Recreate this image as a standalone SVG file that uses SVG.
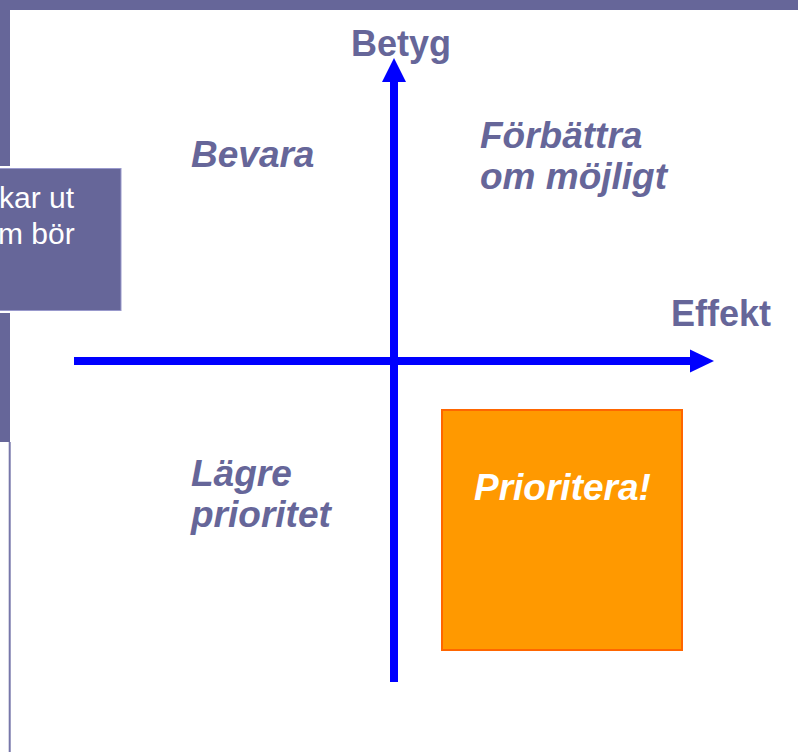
<svg xmlns="http://www.w3.org/2000/svg" width="798" height="752" viewBox="0 0 798 752">
<defs>
<style>
.lbl{font-family:"Liberation Sans",Arial,sans-serif;font-weight:bold;font-style:italic;font-size:37px;fill:#666699}
.ax{font-family:"Liberation Sans",Arial,sans-serif;font-weight:bold;font-size:36px;fill:#666699}
.box{font-family:"Liberation Sans",Arial,sans-serif;font-size:30px;fill:#ffffff}
.axis{stroke:#0000ff;stroke-width:8;fill:none}
</style>
</defs>
<rect width="798" height="752" fill="#ffffff"/>
<g id="frame">
<rect x="0" y="0" width="798" height="10" fill="#666699"/>
<rect x="0" y="0" width="10" height="442" fill="#666699"/>
<rect x="8.7" y="442" width="2" height="310" fill="#7777aa"/>
</g>
<g id="sidebox">
<rect x="-1" y="166" width="123" height="147" fill="#ffffff"/>
<rect x="-1" y="168.5" width="122" height="142" fill="#666699" stroke="#9999cc" stroke-width="1"/>
<text class="box" x="-1" y="208">kar ut</text>
<text class="box" x="-2" y="244">m bör</text>
</g>
<g id="connectors">
<line class="axis" x1="394" y1="682" x2="394" y2="80"/>
<polygon points="394,58 382,82 406,82" fill="#0000ff"/>
<line class="axis" x1="74" y1="361" x2="692" y2="361"/>
<polygon points="714,361 690,349.5 690,372.5" fill="#0000ff"/>
</g>
<g id="betyg"><text class="ax" x="351" y="56">Betyg</text></g>
<g id="effekt"><text class="ax" x="671" y="326">Effekt</text></g>
<g id="bevara"><text class="lbl" x="191" y="167">Bevara</text></g>
<g id="forbattra"><text class="lbl" x="480" y="148">Förbättra</text><text class="lbl" x="480" y="189">om möjligt</text></g>
<g id="lagre"><text class="lbl" x="191" y="486">Lägre</text><text class="lbl" x="191" y="527">prioritet</text></g>
<g id="prioritera">
<rect x="442" y="410" width="240" height="240" fill="#ff9900" stroke="#ff6600" stroke-width="2"/>
<text class="lbl" x="474" y="500" style="fill:#ffffff">Prioritera!</text>
</g>
</svg>
